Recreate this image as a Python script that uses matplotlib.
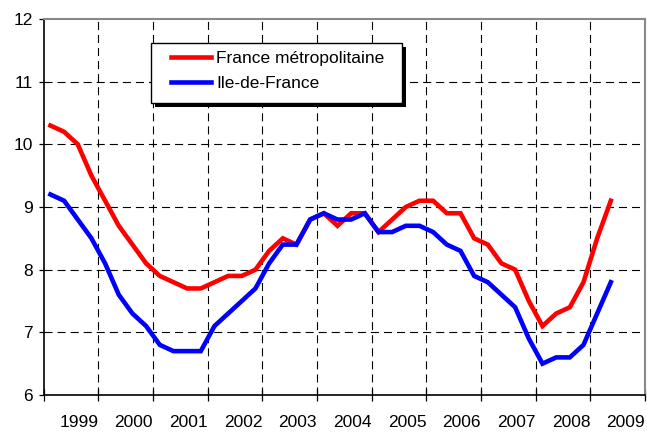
import numpy as np
import matplotlib
matplotlib.use('Agg')
import matplotlib.pyplot as plt
from matplotlib.patches import Rectangle

# quarterly unemployment rate, 1999 Q1 -> 2009 Q2
france = [10.3, 10.2, 10.0, 9.5, 9.1, 8.7, 8.4, 8.1, 7.9, 7.8, 7.7, 7.7,
          7.8, 7.9, 7.9, 8.0, 8.3, 8.5, 8.4, 8.8, 8.9, 8.7, 8.9, 8.9,
          8.6, 8.8, 9.0, 9.1, 9.1, 8.9, 8.9, 8.5, 8.4, 8.1, 8.0, 7.5,
          7.1, 7.3, 7.4, 7.8, 8.5, 9.1]
idf = [9.2, 9.1, 8.8, 8.5, 8.1, 7.6, 7.3, 7.1, 6.8, 6.7, 6.7, 6.7,
       7.1, 7.3, 7.5, 7.7, 8.1, 8.4, 8.4, 8.8, 8.9, 8.8, 8.8, 8.9,
       8.6, 8.6, 8.7, 8.7, 8.6, 8.4, 8.3, 7.9, 7.8, 7.6, 7.4, 6.9,
       6.5, 6.6, 6.6, 6.8, 7.3, 7.8]
years = [1999, 2000, 2001, 2002, 2003, 2004, 2005, 2006, 2007, 2008, 2009]
labels = ['France métropolitaine', 'Ile-de-France']

plt.rcParams['font.family'] = ['Liberation Sans', 'DejaVu Sans']
plt.rcParams['lines.scale_dashes'] = False

fig = plt.figure(figsize=(6.47, 4.34), dpi=100)
ax = fig.add_axes([43.6/647, 1 - 395/434, (645 - 43.6)/647, (395 - 19)/434])

n_q = 4 * len(years)
x = np.arange(len(france)) + 0.5
ax.plot(x, france, color='#ff0000', lw=3.3, label=labels[0], solid_joinstyle='miter', zorder=3)
ax.plot(x, idf, color='#0000ff', lw=3.3, label=labels[1], solid_joinstyle='miter', zorder=3)

ax.set_xlim(0, n_q)
ax.set_ylim(6, 12)

ax.set_yticks(range(6, 13))
ax.set_xticks(range(0, n_q + 1, 4))
ax.set_xticklabels([''] + [str(y) for y in years], ha='right')

for v in range(7, 12):
    ax.axhline(v, color='black', lw=0.8, ls=(0, (5.8, 3.6)), zorder=1)
for q in range(4, n_q, 4):
    ax.axvline(q, color='black', lw=0.8, ls=(0, (5.8, 3.6)), zorder=1)

ax.tick_params(axis='y', direction='out', length=3.6, width=0.9, pad=4, labelsize=12.5)
ax.tick_params(axis='x', direction='inout', length=9, width=0.9, pad=10, labelsize=12.5)

for s in ['left', 'bottom']:
    ax.spines[s].set_color('black')
    ax.spines[s].set_linewidth(1.2)
for s in ['top', 'right']:
    ax.spines[s].set_color('#888888')
    ax.spines[s].set_linewidth(1.5)

# legend box with shadow
bx0, bx1, by0, by1 = 151, 402, 42.7, 103
sh = 4
ax.add_patch(Rectangle(((bx0 + sh)/647, 1 - (by1 + sh)/434), (bx1 - bx0)/647, (by1 - by0)/434,
                       transform=fig.transFigure, facecolor='black', edgecolor='none',
                       clip_on=False, zorder=4))
ax.add_patch(Rectangle((bx0/647, 1 - by1/434), (bx1 - bx0)/647, (by1 - by0)/434,
                       transform=fig.transFigure, facecolor='white', edgecolor='black',
                       lw=1.0, clip_on=False, zorder=4.5))
leg = ax.legend(loc='center', bbox_to_anchor=(277.5/647, 1 - 70.85/434),
                bbox_transform=fig.transFigure, frameon=False, fontsize=12.5,
                handlelength=2.3, handletextpad=0.3, labelspacing=0.6,
                borderpad=0, borderaxespad=0)
leg.set_zorder(5)
for h in leg.get_lines():
    h.set_linewidth(3.3)

fig.savefig('out.png', dpi=100)
